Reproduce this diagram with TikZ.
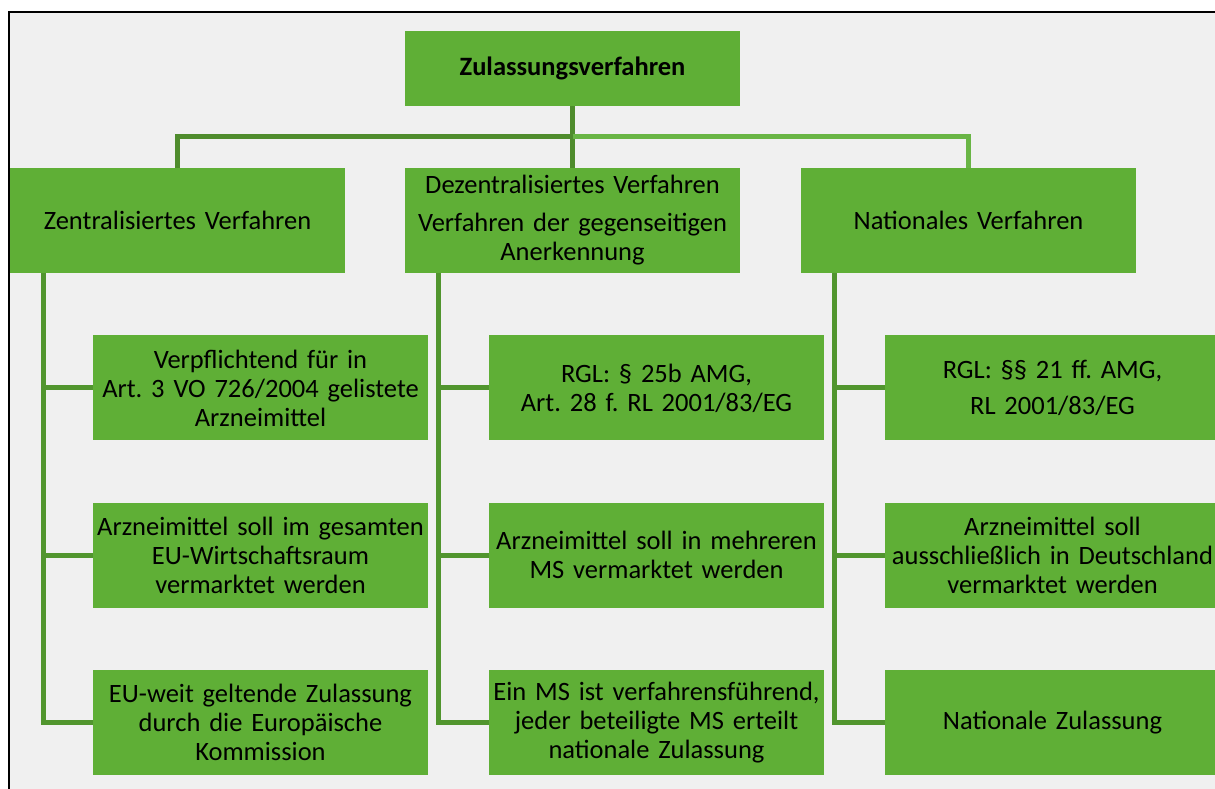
\documentclass[tikz,border=0pt]{standalone}
\usepackage{fontspec}
\setmainfont{Carlito}
\frenchspacing
\usetikzlibrary{positioning}
\definecolor{boxgreen}{HTML}{5FAF36}
\definecolor{linedark}{HTML}{4F8C2D}
\definecolor{linelight}{HTML}{69B545}
\definecolor{paper}{HTML}{F0F0F0}
\tikzset{
        treebox/.style={align=center, inner sep=0pt, fill=boxgreen, text=black, text width=335pt, minimum height=105pt, font=\fontsize{26.5}{29}\selectfont},
        % Root node
        node_root/.style={treebox, minimum height=75pt, font=\fontsize{26.5}{29}\selectfont\bfseries},
        % Procedure nodes
        node_proc/.style={treebox},
        % Detail nodes
        node_detail/.style={treebox},
        % Connector lines
        link/.style={line width=5pt, draw=linedark}
}
\begin{document}
\begin{tikzpicture}[x=1pt, y=-1pt]
            \useasboundingbox (0,0) rectangle (1215,789);
            \clip (0,0) rectangle (1215,789);
            % frame
            \fill[paper] (9,12) rectangle (1215,789);
            \draw[line width=2pt] (9,800) -- (9,12) -- (1230,12);

            \node[node_root] (zul) at (572.5,68.5) {Zulassungsverfahren};

            \node[node_proc] (zent) at (177.5,220.5) {Zentralisiertes Verfahren};
            \node[node_proc] (dez) at (572.5,220.5) {Dezentralisiertes Verfahren\\[9pt] Verfahren der gegenseitigen\\ Anerkennung};
            \node[node_proc] (nat) at (968.5,220.5) {Nationales Verfahren};

            \node[node_detail, below=62pt of zent, xshift=83pt] (zent1) {Verpflichtend für in\\ Art. 3 VO 726/2004 gelistete\\ Arzneimittel};
            \node[node_detail, below=62pt of zent1] (zent2) {Arzneimittel soll im gesamten\\ EU-Wirtschaftsraum\\ vermarktet werden};
            \node[node_detail, below=62pt of zent2] (zent3) {EU-weit geltende Zulassung\\ durch die Europäische\\ Kommission};

            \node[node_detail, below=62pt of dez, xshift=84pt] (dez1) {RGL: § 25b AMG,\\ Art. 28 f. RL 2001/83/EG};
            \node[node_detail, below=62pt of dez1] (dez2) {Arzneimittel soll in mehreren\\ MS vermarktet werden};
            \node[node_detail, below=62pt of dez2] (dez3) {Ein MS ist verfahrensführend,\\ jeder beteiligte MS erteilt\\ nationale Zulassung};

            \node[node_detail, below=62pt of nat, xshift=84pt] (nat1) {RGL: §§ 21 ff. AMG,\\[7pt] RL 2001/83/EG};
            \node[node_detail, below=62pt of nat1] (nat2) {Arzneimittel soll\\ ausschließlich in Deutschland\\ vermarktet werden};
            \node[node_detail, below=62pt of nat2] (nat3) {Nationale Zulassung};

            % connectors
            \coordinate (bar) at (572.5,137);
            \draw[link] (zul.south) -- (dez.north);
            \draw[link] (zent.north) |- (bar);
            \draw[link, draw=linelight] (bar) -| (nat.north);
            \foreach \p in {zent, dez, nat}
                \foreach \c in {1,2,3}
                    \draw[link, draw=boxgreen!85!black] ([xshift=34pt]\p.south west) |- (\p\c.west);
        \end{tikzpicture}
\end{document}
